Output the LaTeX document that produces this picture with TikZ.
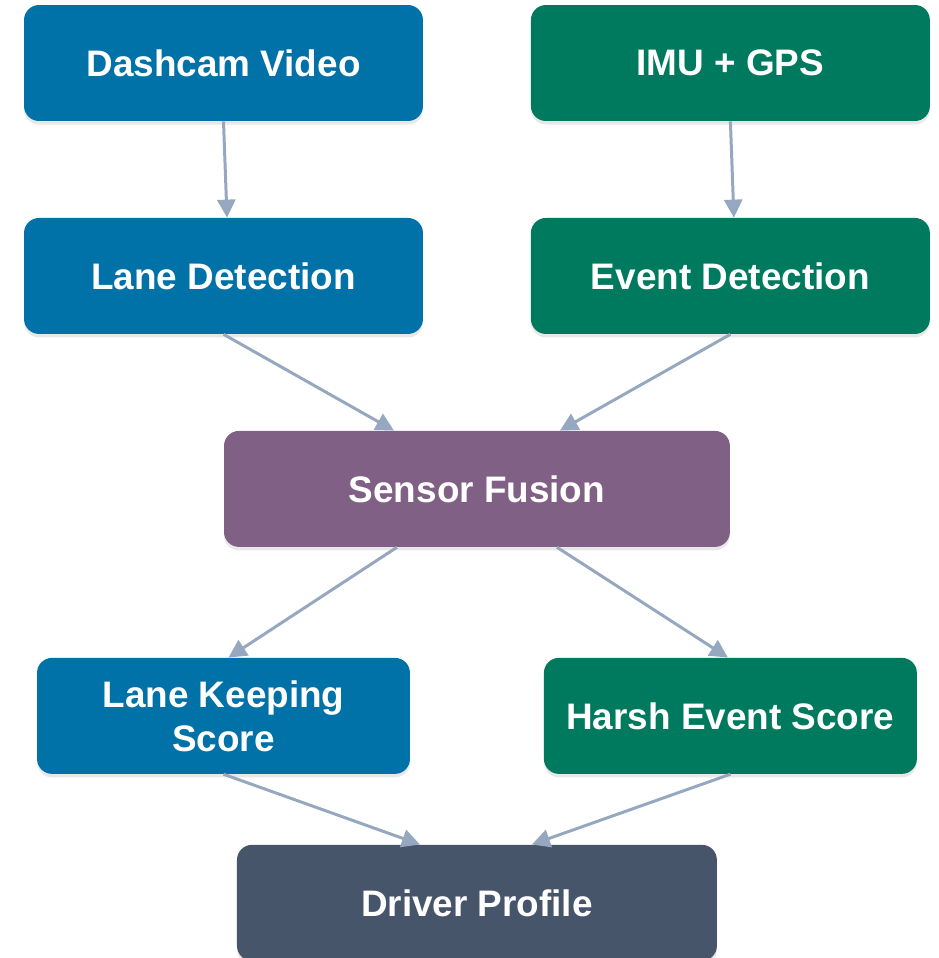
\documentclass[tikz,border=0pt]{standalone}
\usepackage{fontspec}
\setmainfont{Liberation Sans}
\usetikzlibrary{arrows.meta,positioning,calc,shadows}

\definecolor{vidblue}{RGB}{0,114,167}
\definecolor{imugreen}{RGB}{0,122,94}
\definecolor{fusepurple}{RGB}{128,96,132}
\definecolor{profslate}{RGB}{70,85,106}
\definecolor{linkgray}{RGB}{150,167,192}

\tikzset{
  stage/.style={rectangle, rounded corners=0.3cm, text=white, align=center,
    font=\fontsize{21}{25}\selectfont\bfseries, minimum height=2.32cm,
    drop shadow={shadow xshift=0pt, shadow yshift=-2pt, opacity=0.18}},
  bluebox/.style={stage, fill=vidblue, minimum width=7.98cm},
  greenbox/.style={stage, fill=imugreen, minimum width=7.98cm},
  link/.style={draw=linkgray, line width=1.7pt, -{Triangle[length=0.36cm,width=0.36cm]}}
}

\begin{document}
\begin{tikzpicture}[x=0.02cm,y=-0.02cm,on grid]
  \useasboundingbox (0,0) rectangle (938,958);
  \node[bluebox] (dashcam) at (223.5,63) {Dashcam Video};
  \node[greenbox] [right=10.14cm of dashcam] (imu) {IMU + GPS};
  \node[bluebox] [below=4.26cm of dashcam] (lanedet) {Lane Detection};
  \node[greenbox] [below=4.26cm of imu] (eventdet) {Event Detection};
  \coordinate (mid) at ($(lanedet)!0.5!(eventdet)$);
  \node[stage, fill=fusepurple, minimum width=10.12cm] (fusion) at ($(mid)+(0,-4.26cm)$) {Sensor Fusion};
  \node[bluebox, minimum width=7.46cm] [below=8.8cm of lanedet] (lanescore) {Lane Keeping\\Score};
  \node[greenbox, minimum width=7.46cm] [below=8.8cm of eventdet] (harshscore) {Harsh Event Score};
  \node[stage, fill=profslate, minimum width=9.6cm] (profile) at ($(fusion)+(0,-8.28cm)$) {Driver Profile};

  \draw[link] (dashcam.south) -- ([xshift=2pt]lanedet.north);
  \draw[link] (imu.south) -- ([xshift=2pt]eventdet.north);
  \draw[link] (lanedet.south) -- ([xshift=-1.66cm]fusion.north);
  \draw[link] (eventdet.south) -- ([xshift=1.66cm]fusion.north);
  \draw[link] ([xshift=-1.6cm]fusion.south) -- ([xshift=0.1cm]lanescore.north);
  \draw[link] ([xshift=1.6cm]fusion.south) -- ([xshift=-0.05cm]harshscore.north);
  \draw[link] (lanescore.south) -- ([xshift=-1.14cm]profile.north);
  \draw[link] (harshscore.south) -- ([xshift=1.1cm]profile.north);
\end{tikzpicture}
\end{document}
